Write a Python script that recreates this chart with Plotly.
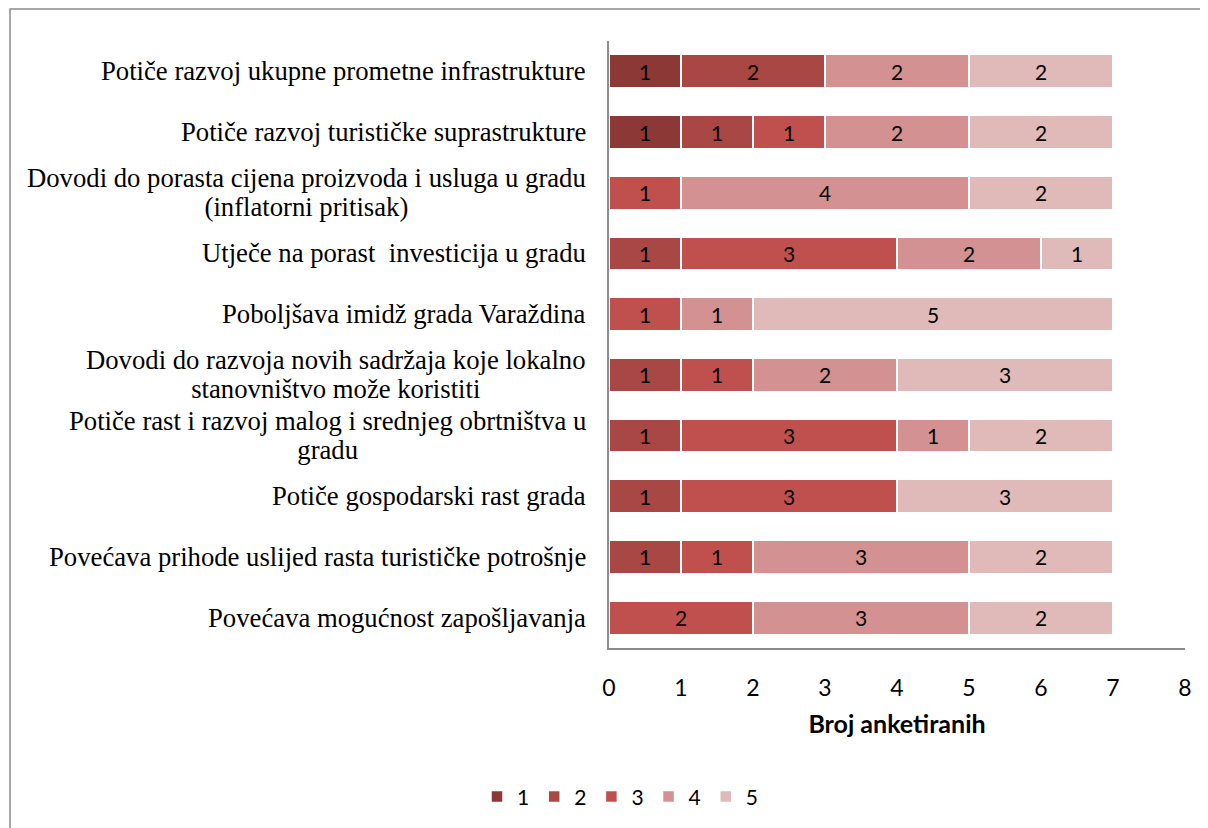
import plotly.graph_objects as go

categories = [
    "Potiče razvoj ukupne prometne infrastrukture",
    "Potiče razvoj turističke suprastrukture",
    "Dovodi do porasta cijena proizvoda i usluga u gradu<br>(inflatorni pritisak)",
    "Utječe na porast  investicija u gradu",
    "Poboljšava imidž grada Varaždina",
    "Dovodi do razvoja novih sadržaja koje lokalno<br>stanovništvo može koristiti",
    "Potiče rast i razvoj malog i srednjeg obrtništva u<br>gradu",
    "Potiče gospodarski rast grada",
    "Povećava prihode uslijed rasta turističke potrošnje",
    "Povećava mogućnost zapošljavanja",
]

series_names = ["1", "2", "3", "4", "5"]
s1 = [1, 1, 0, 0, 0, 0, 0, 0, 0, 0]
s2 = [2, 1, 0, 1, 0, 1, 1, 1, 1, 0]
s3 = [0, 1, 1, 3, 1, 1, 3, 3, 1, 2]
s4 = [2, 2, 4, 2, 1, 2, 1, 0, 3, 3]
s5 = [2, 2, 2, 1, 5, 3, 2, 3, 2, 2]
series_values = [s1, s2, s3, s4, s5]
colors = ["#8C3836", "#A94744", "#C0504E", "#D39291", "#E0B9B9"]

x_ticks = [0, 1, 2, 3, 4, 5, 6, 7, 8]
x_title = "Broj anketiranih"

SANS = "Lato"
SERIF = "Liberation Serif"

fig = go.Figure()
for name, vals, col in zip(series_names, series_values, colors):
    fig.add_trace(go.Bar(
        y=categories, x=vals, name=name, orientation="h",
        marker=dict(color=col, line=dict(color="white", width=1.5)),
        text=[str(v) if v else "" for v in vals],
        textposition="inside", insidetextanchor="middle",
        textangle=0, constraintext="none",
        textfont=dict(family=SANS, size=21, color="black"),
        hoverinfo="x+y+name",
    ))

# centered multi-line category labels (base size sets line spacing, span sets glyph size)
for c in categories:
    styled = "<br>".join('<span style="font-size:26.7px">' + part + "</span>"
                         for part in c.split("<br>"))
    fig.add_annotation(
        x=0, xref="paper", y=c, yref="y", xanchor="right", yanchor="middle",
        xshift=-21, text=styled, showarrow=False, align="center",
        font=dict(family=SERIF, size=22.5, color="black"),
    )

# outer frame
fig.add_shape(type="rect", xref="paper", yref="paper",
              x0=(2 - 601) / 576, x1=(1210 - 601) / 576,
              y0=(640 - 830) / 607, y1=(640 - 1) / 607,
              line=dict(color="#8C8C8C", width=1.5), fillcolor="rgba(0,0,0,0)", layer="below")

fig.update_layout(
    barmode="stack",
    bargap=0.45,
    width=1200, height=820,
    margin=dict(l=601, r=23, t=33, b=180),
    paper_bgcolor="white", plot_bgcolor="white",
    showlegend=True,
    legend=dict(orientation="h", xref="container", yref="container",
                x=0.51, y=0.038, xanchor="center", yanchor="middle",
                font=dict(family=SANS, size=21, color="black"),
                itemwidth=30, traceorder="normal"),
    xaxis=dict(range=[0, 8], tickvals=x_ticks, showgrid=False, zeroline=False,
               showline=True, linecolor="#8C8C8C", linewidth=1.5,
               ticks="", ticklabelstandoff=19,
               tickfont=dict(family=SANS, size=23, color="black"),
               title=dict(text="<b>" + x_title + "</b>", standoff=15,
                          font=dict(family=SANS, size=25, color="black"))),
    yaxis=dict(autorange="reversed", showticklabels=False, showgrid=False, zeroline=False,
               showline=True, linecolor="#8C8C8C", linewidth=1.5, ticks=""),
)

fig.write_html("out.html")
